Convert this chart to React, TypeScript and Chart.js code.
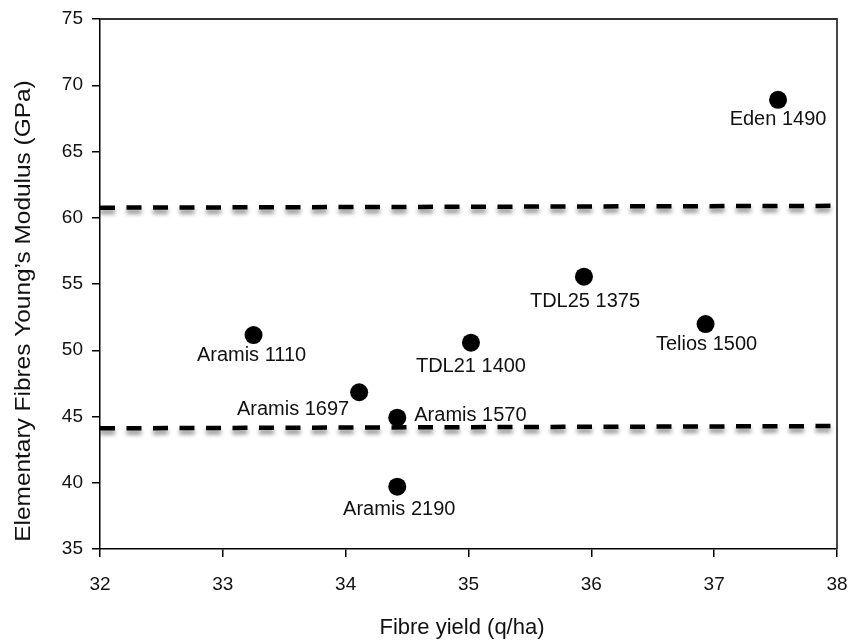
import React, { useEffect, useRef } from 'react';
import { Chart, registerables } from 'chart.js';

Chart.register(...registerables);

// ---- data ----
const cultivars = ['Eden 1490', 'TDL25 1375', 'Telios 1500', 'Aramis 1110', 'TDL21 1400', 'Aramis 1697', 'Aramis 1570', 'Aramis 2190'];
const fibreYield = [37.52, 35.94, 36.93, 33.25, 35.02, 34.11, 34.42, 34.42];
const youngModulus = [68.9, 55.55, 51.98, 51.15, 50.57, 46.83, 44.91, 39.7];
const upperLimitX = [32, 38];
const upperLimitY = [60.76, 60.9];
const lowerLimitX = [32, 38];
const lowerLimitY = [44.11, 44.28];
const xTickValues = [32, 33, 34, 35, 36, 37, 38];
const yTickValues = [35, 40, 45, 50, 55, 60, 65, 70, 75];
const xTitle = 'Fibre yield (q/ha)';
const yTitle = 'Elementary Fibres Young\u2019s Modulus (GPa)';

// ---- label placement (style) ----
const labelPlacement = [
  { dx: 0, dy: 25, align: 'center' },
  { dx: 1, dy: 30, align: 'center' },
  { dx: 1, dy: 26, align: 'center' },
  { dx: -2, dy: 26, align: 'center' },
  { dx: 0, dy: 29, align: 'center' },
  { dx: -10, dy: 23, align: 'right' },
  { dx: 17, dy: 3, align: 'left' },
  { dx: 2, dy: 28.5, align: 'center' },
];

const FONT = '"Liberation Sans", Arial, Helvetica, sans-serif';

export default function App() {
  const ref = useRef<HTMLCanvasElement | null>(null);

  useEffect(() => {
    const canvas = ref.current;
    if (!canvas) return;

    const shadowPlugin = {
      id: 'dashShadow',
      beforeDatasetDraw(chart: any, args: any) {
        if (args.index === 0) return;
        const ctx = chart.ctx;
        ctx.save();
        ctx.shadowColor = 'rgba(0,0,0,0.45)';
        ctx.shadowBlur = 4;
        ctx.shadowOffsetY = 4;
      },
      afterDatasetDraw(chart: any, args: any) {
        if (args.index === 0) return;
        chart.ctx.restore();
      },
    };

    const framePlugin = {
      id: 'frame',
      afterDraw(chart: any) {
        const { ctx, chartArea: a } = chart;
        ctx.save();
        ctx.strokeStyle = '#333';
        ctx.lineWidth = 1.8;
        ctx.beginPath();
        ctx.moveTo(a.left, a.top);
        ctx.lineTo(a.right, a.top);
        ctx.lineTo(a.right, a.bottom);
        ctx.stroke();
        ctx.restore();
      },
    };

    const labelsPlugin = {
      id: 'pointLabels',
      afterDatasetsDraw(chart: any) {
        const ctx = chart.ctx;
        const meta = chart.getDatasetMeta(0);
        ctx.save();
        ctx.fillStyle = '#111';
        ctx.font = `20px ${FONT}`;
        ctx.textBaseline = 'alphabetic';
        meta.data.forEach((pt: any, i: number) => {
          const p = labelPlacement[i];
          ctx.textAlign = p.align;
          ctx.fillText(cultivars[i], pt.x + p.dx, pt.y + p.dy);
        });
        ctx.restore();
      },
    };

    const titlesPlugin = {
      id: 'axisTitles',
      afterDraw(chart: any) {
        const ctx = chart.ctx;
        ctx.save();
        ctx.fillStyle = '#111';
        ctx.font = `22px ${FONT}`;
        ctx.textAlign = 'center';
        ctx.textBaseline = 'middle';
        ctx.fillText(xTitle, 462, 628);
        ctx.translate(24, 311);
        ctx.rotate(-Math.PI / 2);
        ctx.scale(1.11, 1);
        ctx.fillText(yTitle, 0, 0);
        ctx.restore();
      },
    };

    const chart = new Chart(canvas, {
      type: 'scatter',
      data: {
        datasets: [
          {
            label: 'Cultivars',
            data: fibreYield.map((x, i) => ({ x, y: youngModulus[i] })),
            backgroundColor: '#000',
            borderColor: '#000',
            borderWidth: 0,
            pointRadius: 9,
            pointHoverRadius: 9,
          },
          {
            label: 'Upper limit',
            data: upperLimitX.map((x, i) => ({ x, y: upperLimitY[i] })),
            showLine: true,
            borderColor: '#000',
            borderWidth: 4.5,
            borderDash: [15, 11.5],
            pointRadius: 0,
            fill: false,
          },
          {
            label: 'Lower limit',
            data: lowerLimitX.map((x, i) => ({ x, y: lowerLimitY[i] })),
            showLine: true,
            borderColor: '#000',
            borderWidth: 4.5,
            borderDash: [15, 11.5],
            pointRadius: 0,
            fill: false,
          },
        ],
      },
      options: {
        responsive: false,
        animation: false,
        layout: { padding: { top: 19, right: 15, left: 0, bottom: 0 } },
        plugins: {
          legend: { display: false },
          tooltip: { enabled: false },
          title: { display: false },
        },
        scales: {
          x: {
            type: 'linear',
            min: 32,
            max: 38,
            afterFit: (s: any) => { s.height = 94; s.paddingLeft = 0; s.paddingRight = 0; },
            afterBuildTicks: (s: any) => { s.ticks = xTickValues.map((v) => ({ value: v })); },
            ticks: { color: '#111', font: { family: FONT, size: 19 }, padding: 16 },
            grid: { drawOnChartArea: false, drawTicks: true, tickLength: 8, color: '#000', lineWidth: 1.5 },
            border: { display: true, color: '#000', width: 1.5 },
          },
          y: {
            type: 'linear',
            min: 35,
            max: 75,
            afterFit: (s: any) => { s.width = 100; s.paddingTop = 0; s.paddingBottom = 0; },
            afterBuildTicks: (s: any) => { s.ticks = yTickValues.map((v) => ({ value: v })); },
            ticks: { color: '#111', font: { family: FONT, size: 19 }, padding: 9 },
            grid: { drawOnChartArea: false, drawTicks: true, tickLength: 8, color: '#000', lineWidth: 1.5 },
            border: { display: true, color: '#000', width: 1.5 },
          },
        },
      },
      plugins: [shadowPlugin, framePlugin, labelsPlugin, titlesPlugin],
    } as any);

    return () => chart.destroy();
  }, []);

  return (
    <div style={{ position: 'fixed', left: 0, top: 0, width: 852, height: 643, background: '#fff' }}>
      <canvas ref={ref} width={852} height={643} />
    </div>
  );
}
